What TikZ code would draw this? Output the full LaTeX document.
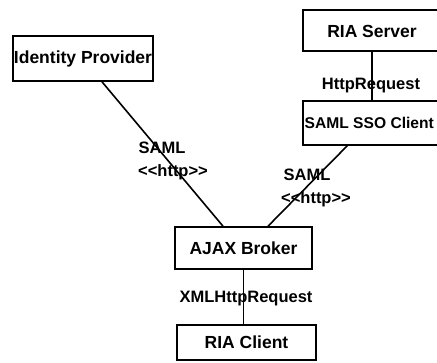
\documentclass[tikz,border=0pt]{standalone}
\usepackage{fontspec}
\setmainfont{Liberation Sans}
\usetikzlibrary{calc}
\begin{document}
\begin{tikzpicture}[x=1pt,y=-1pt,
  box/.style={draw=black,line width=1.6pt,rectangle,inner sep=0pt,font=\fontsize{17.5}{19}\selectfont\bfseries},
  lbl/.style={inner sep=0pt,font=\fontsize{16.5}{18}\selectfont\bfseries},
  conn/.style={draw=black,line width=1.6pt}]
\fill[white] (0,0) rectangle (437,362);
\useasboundingbox (0,0) rectangle (437,362);
\clip (0,0) rectangle (437,362);
\node[box,minimum width=140pt,minimum height=45pt] (idp) at (83,58.5) {Identity Provider};
\node[box,minimum width=150pt,minimum height=41pt] (srv) at (378,30.5) {};
\node[lbl,font=\fontsize{17.5}{19}\selectfont\bfseries] (srvt) at (372,31) {RIA Server};
\node[box,minimum width=150pt,minimum height=44pt] (sso) at (378,123) {};
\node[lbl,anchor=west,font=\fontsize{15.6}{18}\selectfont\bfseries] (ssot) at (304.5,123) {SAML SSO Client};
\node[box,minimum width=137pt,minimum height=42pt] (ajax) at (243.5,248) {AJAX Broker};
\node[box,minimum width=139pt,minimum height=35pt] (cli) at (246.5,342.5) {RIA Client};
\coordinate (srvb) at (372,51);
\coordinate (ssot2) at (372,101);
\coordinate (ssob) at (348,145);
\draw[conn] (srvb) -- (ssot2);
\draw[conn] ([xshift=19pt]idp.south) -- ([xshift=-20.5pt]ajax.north);
\draw[conn] (ssob) -- ([xshift=24.5pt]ajax.north);
\draw[conn] (ajax.south) -- (ajax.south |- cli.north);
\node[lbl] (l1) at (162,148) {SAML};
\node[lbl] (l2) at (173,172) {<{}<http>{}>};
\node[lbl] (l3) at (307,175) {SAML};
\node[lbl] (l4) at (316,199) {<{}<http>{}>};
\node[lbl] (l5) at (371,86) {HttpRequest};
\node[lbl] (l6) at (246,299) {XMLHttpRequest};
\end{tikzpicture}
\end{document}
